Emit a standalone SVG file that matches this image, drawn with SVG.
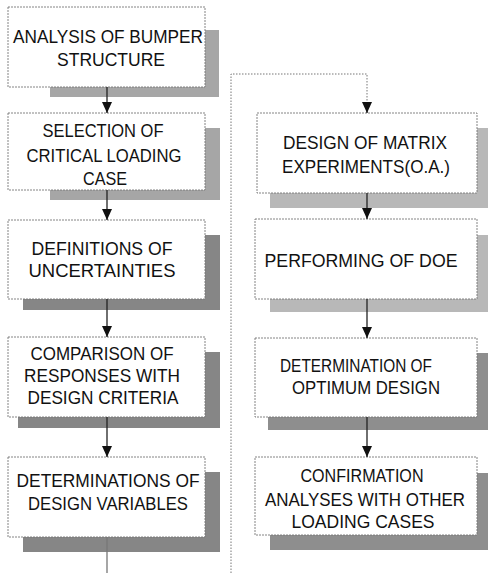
<svg xmlns="http://www.w3.org/2000/svg" width="489" height="573" viewBox="0 0 489 573">
<defs>
<marker id="ah" markerUnits="userSpaceOnUse" markerWidth="11" markerHeight="10" refX="11" refY="5" orient="auto" viewBox="0 0 11 10">
<path d="M0,0 L11,5 L0,10 Z" fill="#111"/>
</marker>
<style>
.box{fill:#fff;stroke:#777;stroke-width:0.9;stroke-dasharray:2 1}
.sh1{fill:#a6a6a6}
.sh2{fill:#868686}
.sh3{fill:#b8b8b8}
.sh4{fill:#8e8e8e}
text{font-family:"Liberation Sans",Arial,sans-serif;font-size:18.5px;fill:#111;text-anchor:middle}
.ln{stroke:#222;stroke-width:1.3;fill:none}
.dt{stroke:#777;stroke-width:1;fill:none;stroke-dasharray:1.5 1.5}
</style>
</defs>
<rect width="489" height="573" fill="#fff"/>
<g id="n1">
<rect class="sh1" x="50" y="30" width="169" height="67"/>
<rect class="box" x="8" y="7" width="197" height="80"/>
<text x="108" y="43" textLength="190" lengthAdjust="spacingAndGlyphs">ANALYSIS OF BUMPER</text>
<text x="111" y="66" textLength="108" lengthAdjust="spacingAndGlyphs">STRUCTURE</text>
</g>
<g id="n2">
<rect class="sh1" x="50" y="128" width="170" height="72"/>
<rect class="box" x="8" y="113" width="197" height="77"/>
<text x="103" y="137" textLength="121" lengthAdjust="spacingAndGlyphs">SELECTION OF</text>
<text x="104" y="162" textLength="155" lengthAdjust="spacingAndGlyphs">CRITICAL LOADING</text>
<text x="105" y="185" textLength="44" lengthAdjust="spacingAndGlyphs">CASE</text>
</g>
<g id="n3">
<rect class="sh2" x="23" y="235" width="197" height="75"/>
<rect class="box" x="8" y="220" width="197" height="79"/>
<text x="102" y="255" textLength="141" lengthAdjust="spacingAndGlyphs">DEFINITIONS OF</text>
<text x="102" y="277" textLength="147" lengthAdjust="spacingAndGlyphs">UNCERTAINTIES</text>
</g>
<g id="n4">
<rect class="sh2" x="18" y="352" width="202" height="76"/>
<rect class="box" x="8" y="337" width="197" height="80"/>
<text x="102" y="360" textLength="143" lengthAdjust="spacingAndGlyphs">COMPARISON OF</text>
<text x="102" y="382" textLength="156" lengthAdjust="spacingAndGlyphs">RESPONSES WITH</text>
<text x="103" y="404" textLength="151" lengthAdjust="spacingAndGlyphs">DESIGN CRITERIA</text>
</g>
<g id="n5">
<rect class="sh2" x="23" y="472" width="197" height="80"/>
<rect class="box" x="8" y="457" width="197" height="80"/>
<text x="108" y="487" textLength="183" lengthAdjust="spacingAndGlyphs">DETERMINATIONS OF</text>
<text x="108" y="510" textLength="160" lengthAdjust="spacingAndGlyphs">DESIGN VARIABLES</text>
</g>
<g id="n6">
<rect class="sh3" x="270" y="128" width="218" height="80"/>
<rect class="box" x="257" y="113" width="220" height="80"/>
<text x="365" y="149" textLength="164" lengthAdjust="spacingAndGlyphs">DESIGN OF MATRIX</text>
<text x="366" y="173" textLength="168" lengthAdjust="spacingAndGlyphs">EXPERIMENTS(O.A.)</text>
</g>
<g id="n7">
<rect class="sh3" x="270" y="235" width="218" height="77"/>
<rect class="box" x="255" y="219" width="222" height="80"/>
<text x="361" y="267" textLength="193" lengthAdjust="spacingAndGlyphs">PERFORMING OF DOE</text>
</g>
<g id="n8">
<rect class="sh4" x="268" y="353" width="220" height="77"/>
<rect class="box" x="255" y="338" width="222" height="79"/>
<text x="356" y="372" textLength="152" lengthAdjust="spacingAndGlyphs">DETERMINATION OF</text>
<text x="366" y="394" textLength="148" lengthAdjust="spacingAndGlyphs">OPTIMUM DESIGN</text>
</g>
<g id="n9">
<rect class="sh4" x="270" y="473" width="218" height="77"/>
<rect class="box" x="255" y="457" width="222" height="78"/>
<text x="362" y="482" textLength="123" lengthAdjust="spacingAndGlyphs">CONFIRMATION</text>
<text x="365" y="506" textLength="200" lengthAdjust="spacingAndGlyphs">ANALYSES WITH OTHER</text>
<text x="363" y="528" textLength="143" lengthAdjust="spacingAndGlyphs">LOADING CASES</text>
</g>
<g id="connectors">
<line class="ln" x1="107" y1="87" x2="107" y2="113" marker-end="url(#ah)"/>
<line class="ln" x1="107" y1="190" x2="107" y2="220" marker-end="url(#ah)"/>
<line class="ln" x1="107" y1="299" x2="107" y2="337" marker-end="url(#ah)"/>
<line class="ln" x1="107" y1="417" x2="107" y2="457" marker-end="url(#ah)"/>
<line x1="107" y1="537" x2="107" y2="573" stroke="#777" stroke-width="1.3"/>
<polyline class="dt" points="231,573 231,74 367,74 367,104"/>
<line class="ln" x1="367" y1="102" x2="367" y2="113" marker-end="url(#ah)"/>
<line class="ln" x1="367" y1="193" x2="367" y2="219" marker-end="url(#ah)"/>
<line class="ln" x1="367" y1="299" x2="367" y2="338" marker-end="url(#ah)"/>
<line class="ln" x1="367" y1="417" x2="367" y2="457" marker-end="url(#ah)"/>
</g>
</svg>
